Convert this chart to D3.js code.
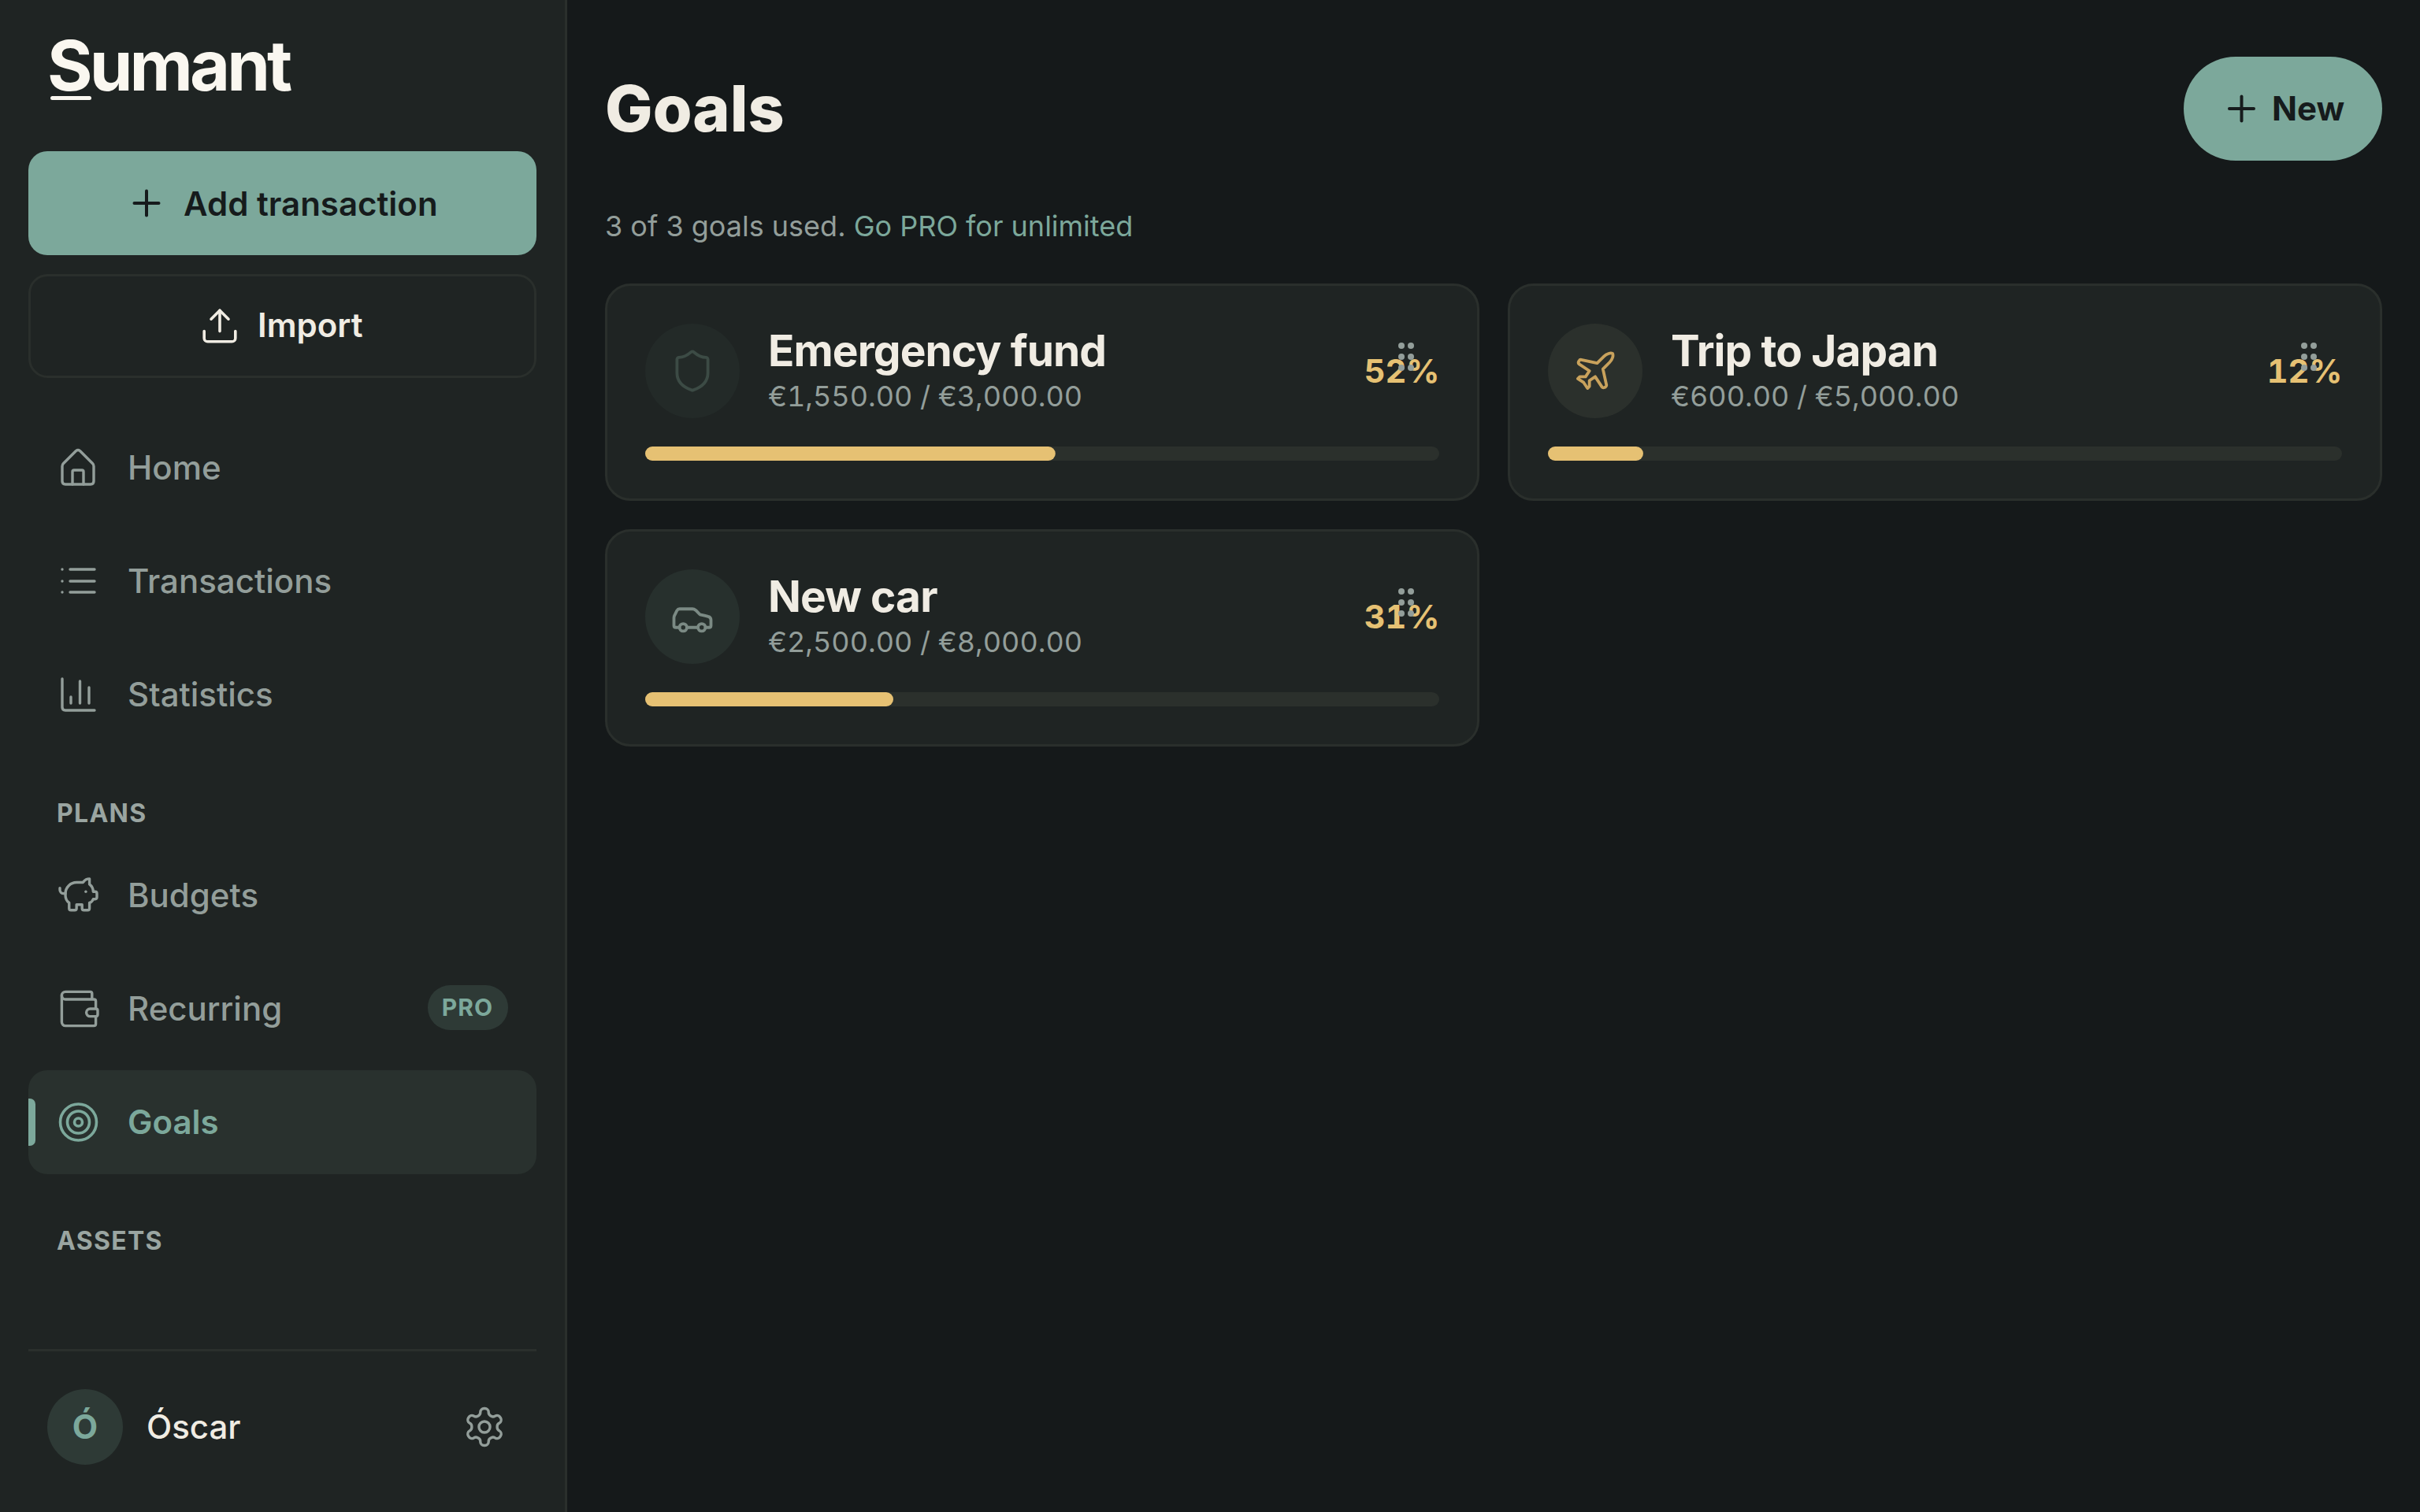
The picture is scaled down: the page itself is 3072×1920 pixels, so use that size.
<!DOCTYPE html>
<html>
<head>
<meta charset="utf-8">
<title>Sumant - Goals</title>
<script src="https://cdn.jsdelivr.net/npm/d3@7"></script>
<style>
  html, body { margin: 0; padding: 0; background: #15191a; }
  svg { display: block; font-family: Inter, sans-serif; }
  .tnum { font-variant-numeric: tabular-nums; }
</style>
</head>
<body>
<svg id="page"></svg>
<script>
// goals
const goalNames = ['Emergency fund', 'Trip to Japan', 'New car'];
const goalCurrent = [1550, 600, 2500];
const goalTarget = [3000, 5000, 8000];
const goalIcons = ['shield', 'plane', 'car'];
const goalCircleColors = ['#232a28', '#2b302c', '#27302d'];
const goalIconColors = ['#3c4b45', '#c9a25c', '#7b8a84'];

// sidebar
const navTop = ['Home', 'Transactions', 'Statistics'];
const navPlans = ['Budgets', 'Recurring', 'Goals'];
const sectionLabels = ['PLANS', 'ASSETS'];

const COL = {
    main: '#15191a', side: '#1f2423', line: '#2a2f2c', accent: '#7ca89b', ink: '#161b1c',
    text: '#f0ece3', logo: '#faf7f0', muted: '#939e9a', section: '#9aa5a1',
    active: '#29312e', badge: '#2e3a36', track: '#2b302c', gold: '#e6c173'
};

// icon paths, drawn on a 24 box unless noted
const ICONS = {
    upload: ['M12 3v12', 'm17 8-5-5-5 5', 'M21 15v4a2 2 0 0 1-2 2H5a2 2 0 0 1-2-2v-4'],
    piggy: ['M11 17h3v2a1 1 0 0 0 1 1h2a1 1 0 0 0 1-1v-3a3.16 3.16 0 0 0 2-2h1a1 1 0 0 0 1-1v-2a1 1 0 0 0-1-1h-1a5 5 0 0 0-2-4V3a4 4 0 0 0-3.2 1.6l-.3.4H11a6 6 0 0 0-6 6v1a5 5 0 0 0 2 4v3a1 1 0 0 0 1 1h2a1 1 0 0 0 1-1z', 'M16 10h.01', 'M2 8v1a2 2 0 0 0 2 2h1'],
    wallet: ['M19 7V4a1 1 0 0 0-1-1H5a2 2 0 0 0 0 4h15a1 1 0 0 1 1 1v4h-3a2 2 0 0 0 0 4h3a1 1 0 0 0 1-1v-2a1 1 0 0 0-1-1', 'M3 5v14a2 2 0 0 0 2 2h15a1 1 0 0 0 1-1v-4'],
    gear: ['M12.22 2h-.44a2 2 0 0 0-2 2v.18a2 2 0 0 1-1 1.73l-.43.25a2 2 0 0 1-2 0l-.15-.08a2 2 0 0 0-2.73.73l-.22.38a2 2 0 0 0 .73 2.73l.15.1a2 2 0 0 1 1 1.72v.51a2 2 0 0 1-1 1.74l-.15.09a2 2 0 0 0-.73 2.73l.22.38a2 2 0 0 0 2.73.73l.15-.08a2 2 0 0 1 2 0l.43.25a2 2 0 0 1 1 1.73V20a2 2 0 0 0 2 2h.44a2 2 0 0 0 2-2v-.18a2 2 0 0 1 1-1.73l.43-.25a2 2 0 0 1 2 0l.15.08a2 2 0 0 0 2.73-.73l.22-.39a2 2 0 0 0-.73-2.73l-.15-.08a2 2 0 0 1-1-1.74v-.5a2 2 0 0 1 1-1.74l.15-.09a2 2 0 0 0 .73-2.73l-.22-.38a2 2 0 0 0-2.73-.73l-.15.08a2 2 0 0 1-2 0l-.43-.25a2 2 0 0 1-1-1.73V4a2 2 0 0 0-2-2z', 'M9 12a3 3 0 1 0 6 0a3 3 0 1 0 -6 0'],
    shield: ['M20 13c0 5-3.5 7.5-7.66 8.95a1 1 0 0 1-.67-.01C7.5 20.5 4 18 4 13V6a1 1 0 0 1 1-1c2 0 4.5-1.2 6.24-2.72a1.17 1.17 0 0 1 1.52 0C14.51 3.81 17 5 19 5a1 1 0 0 1 1 1z'],
    plane: ['M17.8 19.2 16 11l3.5-3.5C21 6 21.5 4 21 3c-1-.5-3 0-4.5 1.5L13 8 4.8 6.2c-.5-.1-.9.1-1.1.5l-.3.5c-.2.5-.1 1 .3 1.3L9 12l-2 3H4l-1 1 3 2 2 3 1-1v-3l3-2 3.5 5.3c.3.4.8.5 1.3.3l.5-.2c.4-.3.6-.7.5-1.2z'],
    car: ['M19 17h2c.6 0 1-.4 1-1v-3c0-.9-.7-1.7-1.5-1.9C18.7 10.6 16 10 16 10s-1.3-1.4-2.2-2.3c-.5-.4-1.1-.7-1.8-.7H5c-.6 0-1.1.4-1.4.9l-1.4 2.9A3.7 3.7 0 0 0 2 12v4c0 .6.4 1 1 1h2', 'M5 17a2 2 0 1 0 4 0a2 2 0 1 0 -4 0', 'M9 17h6', 'M15 17a2 2 0 1 0 4 0a2 2 0 1 0 -4 0']
};

class GoalsPage {

    constructor(_config) {
        this.config = {
            parentElement: _config.parentElement,
            containerWidth: _config.containerWidth || 3072,
            containerHeight: _config.containerHeight || 1920,
            sidebarWidth: 717
        };
        this.initVis();
    }

    initVis() {
        let vis = this;

        vis.svg = d3.select(vis.config.parentElement)
            .attr('width', vis.config.containerWidth)
            .attr('height', vis.config.containerHeight);

        vis.svg.append('rect')
            .attr('width', vis.config.containerWidth)
            .attr('height', vis.config.containerHeight)
            .attr('fill', COL.main);

        // scales for card grid and progress bars
        vis.colScale = d3.scaleLinear().domain([0, 1]).range([769, 1915]);
        vis.rowScale = d3.scaleLinear().domain([0, 1]).range([360, 672]);
        vis.progressScale = d3.scaleLinear().domain([0, 1]).range([0, 1008]);

        vis.euro = d3.format(',.2f');

        vis.renderSidebar();
        vis.renderHeader();
        vis.renderCards();
    }

    // small helpers
    label(parent, x, y, str, size, weight, fill, extra) {
        let t = parent.append('text')
            .attr('x', x)
            .attr('y', y)
            .attr('font-size', size)
            .attr('font-weight', weight)
            .attr('fill', fill)
            .text(str);
        if (extra && extra.spacing) t.attr('letter-spacing', extra.spacing);
        if (extra && extra.anchor) t.attr('text-anchor', extra.anchor);
        if (extra && extra.tnum) t.attr('class', 'tnum');
        return t;
    }

    icon(parent, name, cx, cy, k, color, sw) {
        let g = parent.append('g')
            .attr('transform', `translate(${cx - 12 * k},${cy - 12 * k}) scale(${k})`)
            .attr('fill', 'none')
            .attr('stroke', color)
            .attr('stroke-width', sw / k)
            .attr('stroke-linecap', 'round')
            .attr('stroke-linejoin', 'round');
        ICONS[name].forEach(d => g.append('path').attr('d', d));
    }

    rawIcon(parent, paths, x, y, color, sw) {
        let g = parent.append('g')
            .attr('transform', `translate(${x},${y})`)
            .attr('fill', 'none')
            .attr('stroke', color)
            .attr('stroke-width', sw)
            .attr('stroke-linecap', 'round')
            .attr('stroke-linejoin', 'round');
        paths.forEach(d => g.append('path').attr('d', d));
    }

    plus(parent, cx, cy, r, color) {
        this.rawIcon(parent, [`M${-r} 0H${r}`, `M0 ${-r}V${r}`], cx, cy, color, 4);
    }

    renderSidebar() {
        let vis = this;
        let side = vis.svg.append('g');

        side.append('rect').attr('width', vis.config.sidebarWidth).attr('height', 1920).attr('fill', COL.side);
        side.append('rect').attr('x', vis.config.sidebarWidth).attr('width', 3).attr('height', 1920).attr('fill', COL.line);

        // logo
        vis.label(side, 60, 115, 'Sumant', 88, 700, COL.logo, { spacing: -3.9 });
        side.append('rect').attr('x', 64).attr('y', 122).attr('width', 52).attr('height', 5).attr('rx', 2.5).attr('fill', COL.logo);

        // buttons
        side.append('rect').attr('x', 36).attr('y', 192).attr('width', 645).attr('height', 132).attr('rx', 24).attr('fill', COL.accent);
        vis.plus(side, 186, 258, 15.5, COL.ink);
        vis.label(side, 233, 273.5, 'Add transaction', 42, 600, COL.ink);

        side.append('rect').attr('x', 37.5).attr('y', 349.5).attr('width', 642).attr('height', 129).attr('rx', 23).attr('fill', 'none').attr('stroke', COL.line).attr('stroke-width', 3);
        vis.icon(side, 'upload', 279, 414, 2.2, COL.text, 3.6);
        vis.label(side, 327, 428, 'Import', 42, 600, COL.text);

        // nav rows
        let navY = d3.scaleLinear().domain([0, 2]).range([609, 897]);
        navTop.forEach((d, i) => vis.label(side, 162, navY(i), d, 42, 500, COL.muted));

        vis.rawIcon(side, [
            'M2 22Q2 20 3.5 18.5L19.5 2.5Q22 .5 24.5 2.5L40.5 18.5Q42 20 42 22V41Q42 45 38 45H6Q2 45 2 41Z',
            'M15 45V29Q15 27 17 27H27Q29 27 29 29V45'
        ], 77, 570, COL.muted, 3.4);
        vis.rawIcon(side, ['M2 0h.01', 'M2 15h.01', 'M2 29h.01', 'M12 0H43', 'M12 15H43', 'M12 29H43'], 77, 723, COL.muted, 3.4);
        vis.rawIcon(side, ['M2 2V38Q2 42 6 42H43', 'M13 25V33', 'M24.5 5V33', 'M36 13V33'], 77, 860, COL.muted, 3.4);

        let planY = d3.scaleLinear().domain([0, 2]).range([1152, 1440]);
        navPlans.forEach((d, i) => {
            if (d === 'Goals') {
                side.append('rect').attr('x', 36).attr('y', 1359).attr('width', 645).attr('height', 132).attr('rx', 24).attr('fill', COL.active);
                side.append('path').attr('d', 'M36 1395h2a7 7 0 0 1 7 7v46a7 7 0 0 1 -7 7h-2z').attr('fill', COL.accent);
            }
            vis.label(side, 162, planY(i), d, 42, d === 'Goals' ? 600 : 500, d === 'Goals' ? COL.accent : COL.muted);
        });
        vis.icon(side, 'piggy', 99.5, 1137, 2.35, COL.muted, 3.4);
        vis.icon(side, 'wallet', 100, 1281, 2.4, COL.muted, 3.4);

        let target = side.append('g').attr('fill', 'none').attr('stroke', COL.accent).attr('stroke-width', 3.6);
        [23, 14, 5].forEach(r => target.append('circle').attr('cx', 99.5).attr('cy', 1425).attr('r', r));

        // PRO badge
        side.append('rect').attr('x', 543).attr('y', 1251).attr('width', 102).attr('height', 57).attr('rx', 28.5).attr('fill', COL.badge);
        vis.label(side, 593.5, 1290, 'PRO', 30, 700, COL.accent, { anchor: 'middle', spacing: 1 });

        // section labels
        vis.label(side, 72, 1044, sectionLabels[0], 32, 700, COL.section, { spacing: 1.3 });
        vis.label(side, 72, 1587, sectionLabels[1], 32, 700, COL.section, { spacing: 1.3 });

        // user row
        side.append('rect').attr('x', 36).attr('y', 1713).attr('width', 645).attr('height', 3).attr('fill', COL.line);
        side.append('circle').attr('cx', 108).attr('cy', 1812).attr('r', 48).attr('fill', COL.badge);
        vis.label(side, 108, 1826.5, 'Ó', 42, 700, COL.accent, { anchor: 'middle' });
        vis.label(side, 186, 1827, 'Óscar', 42, 500, COL.text);
        vis.icon(side, 'gear', 615, 1812, 2.35, COL.muted, 3.4);
    }

    renderHeader() {
        let vis = this;
        let head = vis.svg.append('g');

        vis.label(head, 768, 167, 'Goals', 80.6, 800, COL.text);

        let sub = vis.label(head, 768, 299.5, '', 36, 400, COL.muted);
        sub.append('tspan').text('3 of 3 goals used. ');
        sub.append('tspan').attr('fill', COL.accent).text('Go PRO for unlimited');

        head.append('rect').attr('x', 2772).attr('y', 72).attr('width', 252).attr('height', 132).attr('rx', 66).attr('fill', COL.accent);
        vis.plus(head, 2845.5, 138, 15.5, COL.ink);
        vis.label(head, 2884, 153, 'New', 42, 700, COL.ink);
    }

    renderCards() {
        let vis = this;

        goalNames.forEach((name, i) => {
            let col = i % 2, row = Math.floor(i / 2);
            let card = vis.svg.append('g')
                .attr('transform', `translate(${vis.colScale(col)},${vis.rowScale(row)})`);

            card.append('rect')
                .attr('x', 0.5).attr('y', 1.5).attr('width', 1107).attr('height', 273).attr('rx', 31)
                .attr('fill', COL.side).attr('stroke', COL.line).attr('stroke-width', 3);

            card.append('circle').attr('cx', 110).attr('cy', 111).attr('r', 60).attr('fill', goalCircleColors[i]);
            let iconCy = goalIcons[i] === 'car' ? 113 : 111;
            let iconK = goalIcons[i] === 'car' ? 2.35 : 2.45;
            vis.icon(card, goalIcons[i], 110, iconCy, iconK, goalIconColors[i], 3.8);

            vis.label(card, 206, 105, name, 55, 650, COL.text, { spacing: -0.9 });
            vis.label(card, 206, 156, `€${vis.euro(goalCurrent[i])} / €${vis.euro(goalTarget[i])}`, 36, 400, COL.muted, { tnum: true });

            let share = goalCurrent[i] / goalTarget[i];
            vis.label(card, 1058.5, 126, `${Math.round(share * 100)}%`, 41.5, 700, COL.gold, { anchor: 'end', tnum: true });

            // drag handle sits on top of the percent
            let dots = card.append('g').attr('fill', COL.muted);
            [1010, 1022].forEach(x => [79, 93, 107].forEach(y => dots.append('circle').attr('cx', x).attr('cy', y).attr('r', 4)));

            // progress
            card.append('rect').attr('x', 50).attr('y', 207).attr('width', vis.progressScale(1)).attr('height', 18).attr('rx', 9).attr('fill', COL.track);
            card.append('rect').attr('x', 50).attr('y', 207).attr('width', vis.progressScale(share)).attr('height', 18).attr('rx', 9).attr('fill', COL.gold);
        });
    }
}

new GoalsPage({ parentElement: '#page' });
</script>
</body>
</html>
